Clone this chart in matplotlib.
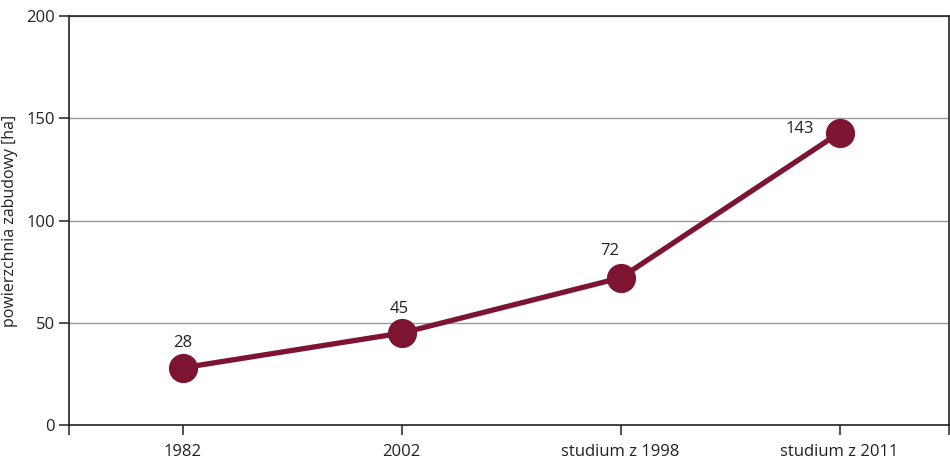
import matplotlib
matplotlib.use('Agg')
import matplotlib.pyplot as plt

# Data
categories = ['1982', '2002', 'studium z 1998', 'studium z 2011']
values = [28, 45, 72, 143]
# label offsets in pixels (dx, dy) relative to each point
label_offsets = [(0, 25), (-3, 24), (-11, 27), (-40, 4)]

LINE_COLOR = '#7d1431'

plt.rcParams['font.family'] = ['Open Sans', 'DejaVu Sans']

fig = plt.figure(figsize=(9.5, 4.61), dpi=100)
ax = fig.add_axes([0.0726, 0.078, 0.9264, 0.887])

x = list(range(len(categories)))
ax.plot(x, values, color=LINE_COLOR, linewidth=3.8, marker='o',
        markersize=20, markerfacecolor=LINE_COLOR, markeredgecolor=LINE_COLOR,
        solid_capstyle='round', zorder=3)

for xi, v, (dx, dy) in zip(x, values, label_offsets):
    ax.annotate(str(v), (xi, v), xytext=(dx * 0.72, dy * 0.72),
                textcoords='offset points', ha='center', va='center',
                fontsize=12, color='#222222')

ax.set_xlim(-0.52, 3.5)
ax.set_ylim(0, 200)
ax.set_yticks([0, 50, 100, 150, 200])
ax.set_xticks(x)
ax.set_xticklabels(categories)
ax.set_xticks([-0.52, 3.5], minor=True)

ax.yaxis.grid(True, color='#999999', linewidth=1.0)
ax.set_axisbelow(True)

for spine in ax.spines.values():
    spine.set_color('#222222')
    spine.set_linewidth(1.2)

ax.tick_params(axis='both', which='both', direction='out', length=7,
               width=1.1, color='#222222', labelsize=12, labelcolor='#222222')
ax.tick_params(axis='x', which='both', length=7, pad=7)
ax.tick_params(axis='y', pad=3)

ax.set_ylabel('powierzchnia zabudowy [ha]', fontsize=11.5, color='#222222', labelpad=6)

fig.savefig('out.png', dpi=100)
